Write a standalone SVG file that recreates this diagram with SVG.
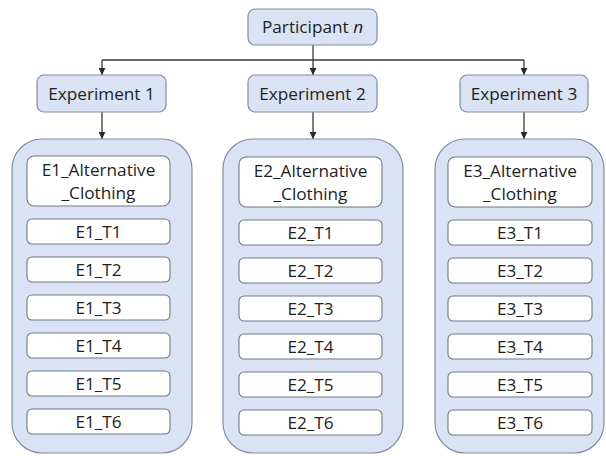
<svg xmlns="http://www.w3.org/2000/svg" width="606" height="456" viewBox="0 0 606 456">
  <style>
    .hdr { fill: #dae3f3; stroke: #7f8fa6; stroke-width: 1.2; }
    .box { fill: #dae3f3; stroke: #7f8fa6; stroke-width: 1.2; }
    .item { fill: #ffffff; stroke: #6f7a88; stroke-width: 1.1; }
    .wire { fill: none; stroke: #3a3a3a; stroke-width: 1.3; }
    text { font-family: "Open Sans", "Liberation Sans", sans-serif; font-size: 17.2px; fill: #1e1e1e; text-anchor: middle; }
  </style>
  <defs>
    <marker id="tip" viewBox="0 0 8 8" refX="8" refY="4" markerWidth="7" markerHeight="7" markerUnits="userSpaceOnUse" orient="auto">
      <path d="M0,0 L8,4 L0,8 Z" fill="#2a2a2a"/>
    </marker>
  </defs>

  <!-- connectors -->
  <g id="connectors">
    <path class="wire" d="M313,45 V60"/>
    <path class="wire" d="M102,60 H524"/>
    <path class="wire" d="M102,60 V75" marker-end="url(#tip)"/>
    <path class="wire" d="M313,60 V75" marker-end="url(#tip)"/>
    <path class="wire" d="M524,60 V75" marker-end="url(#tip)"/>
    <path class="wire" d="M102,112 V139" marker-end="url(#tip)"/>
    <path class="wire" d="M313,112 V139" marker-end="url(#tip)"/>
    <path class="wire" d="M524,112 V139" marker-end="url(#tip)"/>
  </g>

  <!-- root -->
  <g id="participant">
    <rect class="hdr" x="248" y="9" width="129" height="36" rx="7"/>
    <text x="312.5" y="33">Participant <tspan font-style="italic">n</tspan></text>
  </g>

  <!-- experiment headers -->
  <g id="experiment1">
    <rect class="hdr" x="37" y="75" width="129" height="37" rx="7"/>
    <text x="101.5" y="99.5">Experiment 1</text>
  </g>
  <g id="experiment2">
    <rect class="hdr" x="248" y="75" width="129" height="37" rx="7"/>
    <text x="312.5" y="99.5">Experiment 2</text>
  </g>
  <g id="experiment3">
    <rect class="hdr" x="460" y="75" width="128" height="37" rx="7"/>
    <text x="524" y="99.5">Experiment 3</text>
  </g>

  <!-- experiment 1 conditions -->
  <g id="group1">
    <rect class="box" x="12" y="139" width="180" height="314" rx="30"/>
    <rect class="item" x="27" y="156" width="143" height="50" rx="7"/>
    <text x="98.5" y="176">E1_Alternative</text>
    <text x="98.5" y="198.5">_Clothing</text>
    <rect class="item" x="27" y="219" width="143" height="25" rx="5"/>
    <text x="98.5" y="238">E1_T1</text>
    <rect class="item" x="27" y="257" width="143" height="25" rx="5"/>
    <text x="98.5" y="276">E1_T2</text>
    <rect class="item" x="27" y="295" width="143" height="25" rx="5"/>
    <text x="98.5" y="314">E1_T3</text>
    <rect class="item" x="27" y="333" width="143" height="25" rx="5"/>
    <text x="98.5" y="352">E1_T4</text>
    <rect class="item" x="27" y="371" width="143" height="25" rx="5"/>
    <text x="98.5" y="390">E1_T5</text>
    <rect class="item" x="27" y="409" width="143" height="25" rx="5"/>
    <text x="98.5" y="428">E1_T6</text>
  </g>

  <!-- experiment 2 conditions -->
  <g id="group2">
    <rect class="box" x="223" y="139" width="180" height="314" rx="30"/>
    <rect class="item" x="239" y="157" width="143" height="50" rx="7"/>
    <text x="310.5" y="177">E2_Alternative</text>
    <text x="310.5" y="199.5">_Clothing</text>
    <rect class="item" x="239" y="220" width="143" height="25" rx="5"/>
    <text x="310.5" y="239">E2_T1</text>
    <rect class="item" x="239" y="258" width="143" height="25" rx="5"/>
    <text x="310.5" y="277">E2_T2</text>
    <rect class="item" x="239" y="296" width="143" height="25" rx="5"/>
    <text x="310.5" y="315">E2_T3</text>
    <rect class="item" x="239" y="334" width="143" height="25" rx="5"/>
    <text x="310.5" y="353">E2_T4</text>
    <rect class="item" x="239" y="372" width="143" height="25" rx="5"/>
    <text x="310.5" y="391">E2_T5</text>
    <rect class="item" x="239" y="410" width="143" height="25" rx="5"/>
    <text x="310.5" y="429">E2_T6</text>
  </g>

  <!-- experiment 3 conditions -->
  <g id="group3">
    <rect class="box" x="435" y="139" width="169" height="314" rx="30"/>
    <rect class="item" x="448" y="157" width="144" height="50" rx="7"/>
    <text x="520" y="177">E3_Alternative</text>
    <text x="520" y="199.5">_Clothing</text>
    <rect class="item" x="448" y="220" width="144" height="25" rx="5"/>
    <text x="520" y="239">E3_T1</text>
    <rect class="item" x="448" y="258" width="144" height="25" rx="5"/>
    <text x="520" y="277">E3_T2</text>
    <rect class="item" x="448" y="296" width="144" height="25" rx="5"/>
    <text x="520" y="315">E3_T3</text>
    <rect class="item" x="448" y="334" width="144" height="25" rx="5"/>
    <text x="520" y="353">E3_T4</text>
    <rect class="item" x="448" y="372" width="144" height="25" rx="5"/>
    <text x="520" y="391">E3_T5</text>
    <rect class="item" x="448" y="410" width="144" height="25" rx="5"/>
    <text x="520" y="429">E3_T6</text>
  </g>
</svg>
